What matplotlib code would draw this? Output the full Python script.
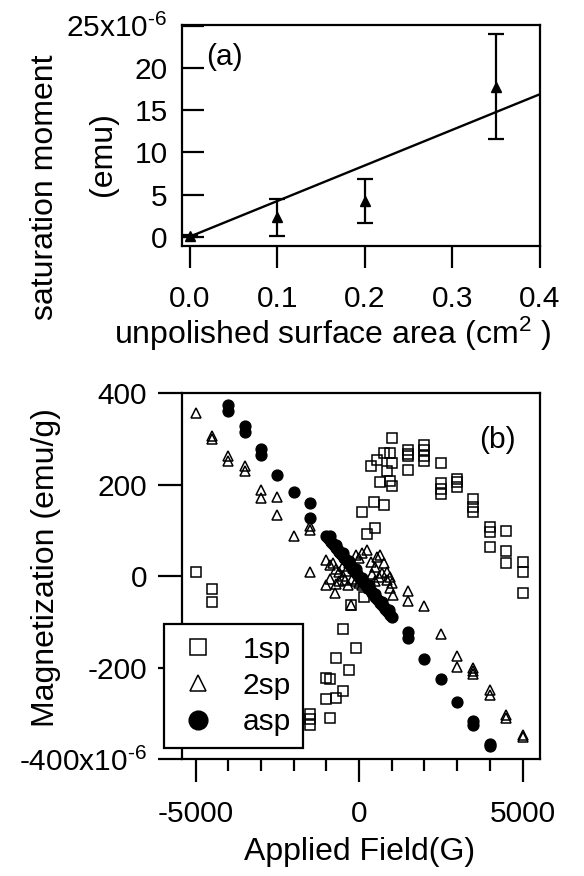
import numpy as np
import matplotlib
matplotlib.use("Agg")
import matplotlib.pyplot as plt
from matplotlib.lines import Line2D
from matplotlib.ticker import MultipleLocator

plt.rcParams['font.family'] = ['Liberation Sans', 'DejaVu Sans']
plt.rcParams['mathtext.fontset'] = 'custom'
plt.rcParams['mathtext.rm'] = 'Liberation Sans'
plt.rcParams['mathtext.it'] = 'Liberation Sans:italic'
plt.rcParams['mathtext.bf'] = 'Liberation Sans:bold'

# panel (a): saturation moment (x1e-6 emu) vs unpolished area
area = [0.0, 0.1, 0.2, 0.35]
moment = [0.1, 2.3, 4.25, 17.8]
moment_err = [0.15, 2.2, 2.65, 6.2]
fit_x = [0.0, 0.4]
fit_y = [0.0, 16.9]

# panel (b): magnetization loops
sp1_H = [-5000, -4500, -4500,
         -1500, -1500, -1500, -1000, -1000, -900, -900, -700, -700,
         -500, -500, -300, -250, -100, 150,
         100, 250, 450, 500, 750, 650, 350, 550, 750, 950, 1000, 850,
         950, 1000, 1000,
         1500, 1500, 1500, 1500, 2000, 2000, 2000, 2000,
         2500, 2500, 2500, 2500, 3000, 3000, 3000, 3500, 3500, 3500,
         4000, 4000, 4000, 4500, 4500, 4500, 5000, 5000, 5000]
sp1_M = [9, -27, -57,
         -300, -312, -325, -222, -268, -225, -309, -178, -265,
         -116, -250, -205, -62, -156, -45,
         140, 93, 162, 105, 156, 207, 242, 254, 269, 269, 302, 231,
         208, 198, 247,
         276, 268, 262, 233, 286, 275, 264, 253,
         247, 204, 191, 180, 213, 206, 196, 169, 151, 140,
         108, 97, 64, 100, 55, 28, 31, 9, -36]

sp2_H = [-5000, -4500, -4500, -4000, -4000, -3500, -3500, -3000, -3000,
         -2500, -2500, -2000, -1500, -1500, -1500,
         -1000, -900, -800, -700, -600, -500, -400, -300, -200, -100,
         0, 100, 250, 350, 500, 550, 650, 750, 850, 950, 1000,
         -1000, -900, -750, -700, -600, -500, -420, -350, -220, -100,
         0, 100, 200, 300, 400, 500, 600, 700, 850, 950, 1050, -250,
         1500, 1500, 2000, 2500, 3000, 3000, 3500, 3500, 3500,
         4000, 4000, 4500, 4500, 5000, 5000]
sp2_M = [358, 307, 300, 264, 251, 242, 231, 188, 172,
         174, 133, 89, 109, 102, 9,
         35, 24, 28, 15, 10, 22, 12, 30, 18, 46,
         39, 50, 57, 31, 20, 42, 46, 28, 9, -1, -15,
         -18, -5, -36, -16, -11, 0, -7, -20, -6, -10,
         -15, -20, -12, -25, 5, -10, -2, 8, -7, -25, -40, -62,
         -33, -55, -65, -127, -175, -198, -200, -207, -214,
         -249, -260, -303, -310, -347, -352]

asp_H = [-4000, -4000, -3500, -3500, -3000, -3000, -2500, -2000, -1500, -1500,
         -1000, -950, -900, -850, -800, -750, -700, -650, -600, -550,
         -500, -450, -400, -350, -300, -250, -200, -150, -100, -50,
         0, 50, 100, 150, 200, 250, 300, 350, 400, 450,
         500, 550, 600, 650, 700, 750, 800, 850, 900, 950, 1000,
         900, 700, 500, 300, 100, -100, -300, -500, -700, -900,
         1500, 1500, 2000, 2500, 3000, 3500, 3500, 4000, 4000]
asp_M = [375, 362, 329, 315, 278, 266, 222, 184, 161, 127,
         89, 84, 80, 76, 71, 67, 62, 58, 53, 49,
         44, 40, 35, 31, 26, 22, 17, 13, 8, 4,
         -1, -5, -10, -14, -18, -23, -27, -32, -36, -41,
         -45, -50, -54, -59, -63, -67, -72, -76, -81, -85, -89,
         -74, -56, -38, -20, -3, 15, 33, 51, 69, 87,
         -122, -135, -181, -225, -275, -317, -326, -366, -372]

W, H = 584, 876
fig = plt.figure(figsize=(W / 100, H / 100), dpi=100)

def px(x, y):
    return x / W, 1 - y / H

fs = 21.5
lfs = 23

# ---- panel (a)
ax1 = fig.add_axes([181.7 / W, 1 - 246 / H, 358.3 / W, 221 / H])
ax1.errorbar(area, moment, yerr=moment_err, fmt='^', color='k', ms=7,
             capsize=5.5, elinewidth=1.6, capthick=1.6)
ax1.plot(fit_x, fit_y, 'k-', lw=1.7)
ax1.set_xlim(-0.009, 0.4)
ax1.set_ylim(-1.1, 25.1)
ax1.set_xticks([0.0, 0.1, 0.2, 0.3, 0.4])
ax1.set_xticklabels(['0.0', '0.1', '0.2', '0.3', '0.4'])
ax1.set_yticks([0, 5, 10, 15, 20, 25])
ax1.set_yticklabels(['0', '5', '10', '15', '20', r'25x10$^{\text{-6}}$'])
ax1.tick_params(axis='y', direction='in', length=16, width=1.6, pad=10, labelsize=fs)
ax1.tick_params(axis='x', direction='out', length=16, width=1.6, pad=12, labelsize=fs)
for s in ax1.spines.values():
    s.set_linewidth(1.6)
fig.text(*px(206, 57), '(a)', fontsize=fs, va='center', ha='left')

fig.text(*px(45, 187), 'saturation moment', fontsize=lfs, rotation=90,
         ha='center', va='center')
fig.text(*px(103, 154), '(emu)', fontsize=lfs, rotation=90,
         ha='center', va='center')
fig.text(*px(333, 334), r'unpolished surface area (cm$^{2}$ )', fontsize=lfs,
         ha='center', va='center')

# ---- panel (b)
ax2 = fig.add_axes([181.7 / W, 1 - 759.3 / H, 358.3 / W, 366 / H])
ax2.plot(sp1_H, sp1_M, 's', ms=7, mfc='none', mec='k', mew=1.1)
ax2.plot(sp2_H, sp2_M, '^', ms=7.5, mfc='none', mec='k', mew=1.1)
ax2.plot(asp_H, asp_M, 'o', ms=7.8, color='k')
ax2.set_xlim(-5428, 5535)
ax2.set_ylim(-400, 400)
ax2.set_xticks([-5000, 0, 5000])
ax2.set_xticklabels(['-5000', '0', '5000'])
ax2.xaxis.set_minor_locator(MultipleLocator(1000))
ax2.set_yticks([-400, -200, 0, 200, 400])
ax2.set_yticklabels([r'-400x10$^{\text{-6}}$', '-200', '0', '200', '400'])
ax2.tick_params(axis='y', direction='out', length=17.5, width=1.6, pad=7.5, labelsize=fs)
ax2.tick_params(axis='x', which='major', direction='out', length=16.5, width=1.6,
                pad=13, labelsize=fs)
ax2.tick_params(axis='x', which='minor', direction='out', length=8.6, width=1.6)
for s in ax2.spines.values():
    s.set_linewidth(1.6)
fig.text(*px(497, 440), '(b)', fontsize=fs, ha='center', va='center')

handles = [Line2D([], [], ls='none', marker='s', ms=12, mfc='none', mec='k', mew=1.1),
           Line2D([], [], ls='none', marker='^', ms=12, mfc='none', mec='k', mew=1.1),
           Line2D([], [], ls='none', marker='o', ms=13.5, color='k')]
leg = ax2.legend(handles, ['1sp', '2sp', 'asp'], loc='lower left',
                 bbox_to_anchor=(-0.05, 0.031), borderaxespad=0,
                 fontsize=fs, frameon=True, fancybox=False, framealpha=1,
                 edgecolor='k', borderpad=0.4, handlelength=1.5,
                 handletextpad=0.74, labelspacing=0.27)
leg.get_frame().set_linewidth(1.6)

fig.text(*px(46, 568), 'Magnetization (emu/g)', fontsize=lfs, rotation=90,
         ha='center', va='center')
fig.text(*px(360, 852), 'Applied Field(G)', fontsize=lfs, ha='center', va='center')

fig.savefig('out.png', dpi=100)
